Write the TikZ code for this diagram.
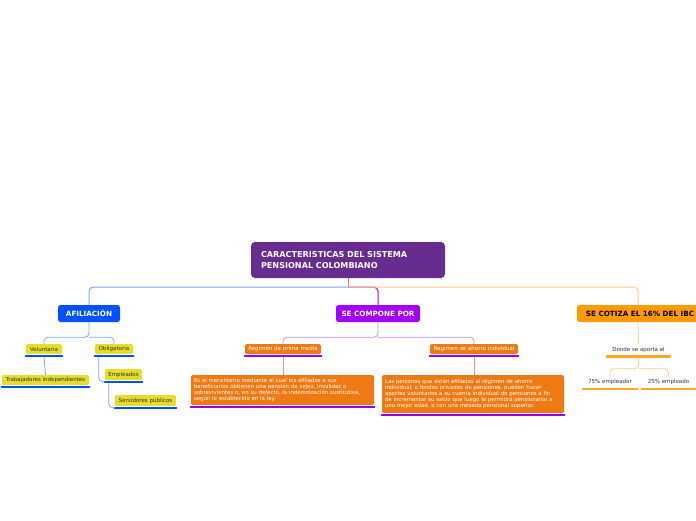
\documentclass[tikz,border=0pt]{standalone}
\usepackage{fontspec}
\setmainfont{DejaVu Sans}

\definecolor{rootpurple}{RGB}{102,44,144}
\definecolor{afilblue}{RGB}{0,82,255}
\definecolor{compurple}{RGB}{162,0,255}
\definecolor{cotorange}{RGB}{255,155,0}
\definecolor{leafyellow}{RGB}{230,220,42}
\definecolor{boxorange}{RGB}{239,122,20}
\definecolor{barblue}{RGB}{0,80,240}
\definecolor{barpurple}{RGB}{150,0,240}
\definecolor{barorange}{RGB}{255,168,30}
\definecolor{lnblue}{RGB}{125,165,245}
\definecolor{lnpurple}{RGB}{200,140,245}
\definecolor{lnorange}{RGB}{255,205,130}
\definecolor{lnroot}{RGB}{230,120,90}
\definecolor{txtgray}{RGB}{50,50,50}

\newcommand{\nodeline}[2]{\draw[#2,line width=2.5pt,line cap=round] ([yshift=-2pt]#1.south west) -- ([yshift=-2pt]#1.south east);}

\begin{document}
\begin{tikzpicture}[x=1pt,y=-1pt,
    rootbox/.style={fill=rootpurple,text=white,rounded corners=4pt,inner sep=0pt,
      minimum width=194pt,minimum height=36pt,text width=174pt,align=left,
      font=\fontsize{8.1}{11}\selectfont\bfseries},
    mainbox/.style={rounded corners=2.5pt,inner sep=0pt,minimum height=17pt,
      font=\fontsize{7.2}{8}\selectfont\bfseries},
    leafbox/.style={fill=leafyellow,text=txtgray,rounded corners=1.5pt,inner sep=0pt,
      minimum height=10pt,font=\fontsize{5.5}{6}\selectfont},
    regbox/.style={fill=boxorange,text=white,rounded corners=1.5pt,inner sep=0pt,
      minimum height=10pt,font=\fontsize{5.5}{6}\selectfont},
    textbox/.style={fill=boxorange,text=white,rounded corners=1.5pt,inner sep=0pt,
      align=left,font=\fontsize{5.4}{6.1}\selectfont},
    plain/.style={text=txtgray,inner sep=0pt,minimum height=10pt,font=\fontsize{5.5}{6}\selectfont},
    conn/.style={line width=0.8pt,rounded corners=4pt}]
\useasboundingbox (0,0) rectangle (696,520);

% root
\node[rootbox] (root) at (348,260) {CARACTERISTICAS DEL SISTEMA\\PENSIONAL COLOMBIANO};

% main branches
\node[mainbox,fill=afilblue,text=white,minimum width=62pt] (afil) at (89,313.5) {AFILIACIÓN};
\node[mainbox,fill=compurple,text=white,minimum width=84pt] (compone) at (378,313.5) {SE COMPONE POR};
\node[mainbox,fill=cotorange,text=black,minimum width=126pt] (cotiza) at (640,313.5) {SE COTIZA EL 16\% DEL IBC};

\coordinate (hub) at ([yshift=-9pt]root.south);
\draw[conn,line width=1pt,compurple] (hub) -| (compone.north);
\draw[conn,line width=1pt,lnblue] (hub) -| (afil.north);
\draw[conn,line width=1pt,lnorange] (hub) -| ([xshift=-2pt]cotiza.north);
\draw[line width=1pt,lnroot] (root.south) -- (hub);

% afiliacion
\node[leafbox,minimum width=36pt] (volun) at (44,349) {Voluntaria};
\node[leafbox,minimum width=38pt] (oblig) at (114,349) {Obligatoria};
\node[leafbox,minimum width=87pt] (indep) at (45.5,380) {Trabajadores independientes};
\node[leafbox,minimum width=37pt,minimum height=11pt] (empl) at (123.5,374.5) {Empleados};
\node[leafbox,minimum width=61pt,minimum height=11pt] (servid) at (145.5,400.5) {Servidores públicos};
\foreach \n in {volun,oblig,indep,empl,servid} {\nodeline{\n}{barblue}}

\coordinate (afilfork) at ([yshift=-15pt]afil.south);
\draw[conn,lnblue] (afil.south) -- (afilfork) -| (volun.north);
\draw[conn,lnblue] (afilfork) -| (oblig.north);
\draw[conn,lnblue] ([yshift=-3pt]volun.south) -- (indep.north);
\draw[conn,lnblue] ([xshift=4pt,yshift=-3pt]oblig.south west) |- ([yshift=-1.5pt]empl.south west);
\draw[conn,lnblue] ([xshift=4pt,yshift=-3pt]empl.south west) |- ([yshift=-1.5pt]servid.south west);

% se compone por
\node[regbox,minimum width=76pt] (prima) at (283,349) {Regimén de prima media};
\node[regbox,minimum width=88pt] (ahorro) at (474,349) {Regimen de ahorro individual};
\node[textbox,minimum width=183pt,minimum height=30pt,text width=177pt] (primatxt) at (282.5,390)
  {Es el mecanismo mediante el cual los afiliados o sus\\beneficiarios obtienen una pensión de vejez, invalidez o\\sobrevivientes o, en su defecto, la indemnización sustitutiva,\\según lo establecido en la ley.};
\node[textbox,minimum width=182pt,minimum height=38pt,text width=176pt] (ahorrotxt) at (473,394)
  {Las personas que están afiliadas al régimen de ahorro\\individual, o fondos privados de pensiones, pueden hacer\\aportes voluntarios a su cuenta individual de pensiones a fin\\de incrementar su saldo que luego le permitirá pensionarse a\\una mejor edad, o con una mesada pensional superior.};
\foreach \n in {prima,ahorro,primatxt,ahorrotxt} {\nodeline{\n}{barpurple}}

\coordinate (compfork) at ([yshift=-15pt]compone.south);
\draw[conn,lnpurple] (compone.south) -- (compfork) -| (prima.north);
\draw[conn,lnpurple] (compfork) -| (ahorro.north);
\draw[conn,lnpurple] ([yshift=-3pt]prima.south) -- (primatxt.north -| prima.south);
\draw[conn,lnpurple] ([yshift=-3pt]ahorro.south) -- (ahorrotxt.north -| ahorro.south);

% se cotiza
\node[plain,minimum width=63pt] (donde) at (638.5,349.5) {Donde se aporta el};
\node[plain,minimum width=54pt] (emp75) at (610,382) {75\% empleador};
\node[plain,minimum width=53pt] (emp25) at (668.5,382) {25\% empleado};
\foreach \n in {donde,emp75,emp25} {\nodeline{\n}{barorange}}

\coordinate (cotfork) at ([yshift=-14pt]donde.south);
\draw[conn,lnorange] ([xshift=-2pt]cotiza.south) -- (donde.north);
\draw[conn,lnorange] ([yshift=-3pt]donde.south) -- (cotfork) -| (emp75.north);
\draw[conn,lnorange] (cotfork) -| (emp25.north);
\end{tikzpicture}
\end{document}
